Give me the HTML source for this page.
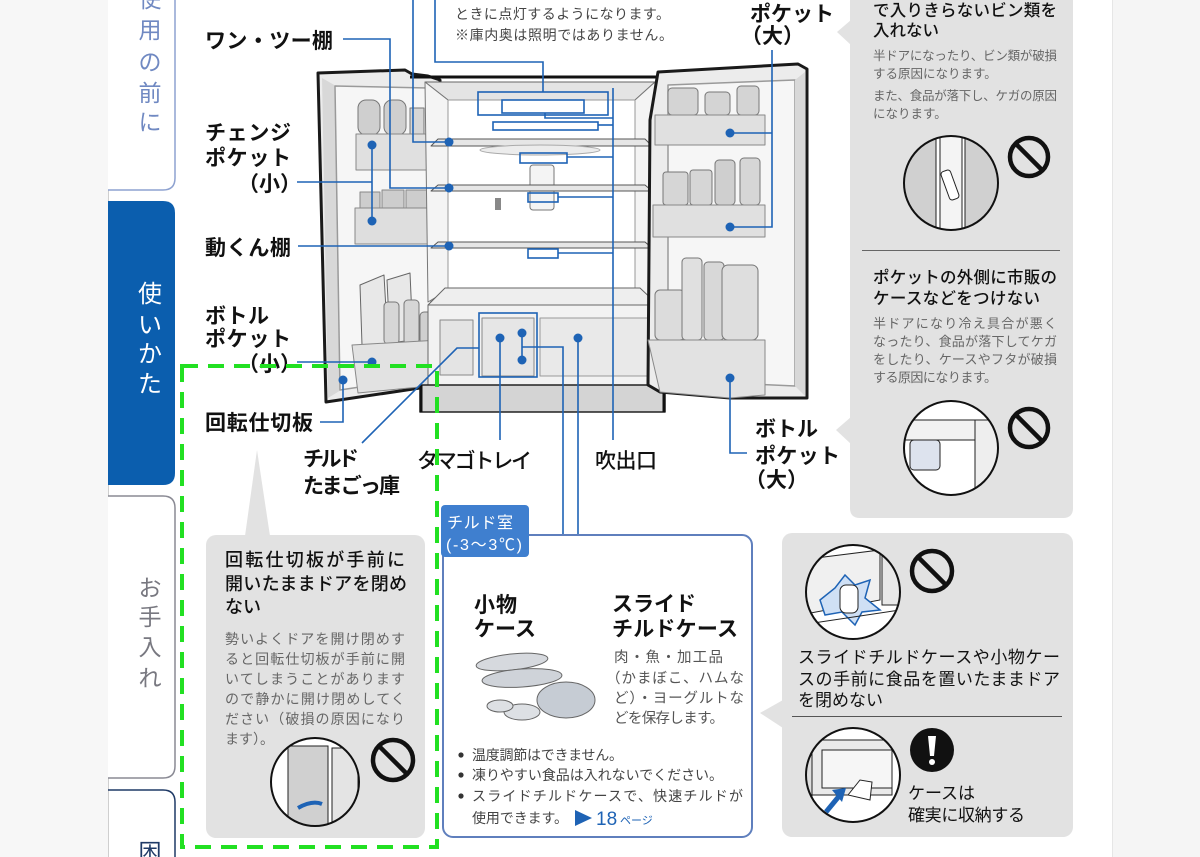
<!DOCTYPE html>
<html><head><meta charset="utf-8">
<style>
html,body{margin:0;padding:0;width:1200px;height:857px;overflow:hidden;background:#fff}
svg{display:block}
text{font-family:"Liberation Sans","Noto Sans CJK JP",sans-serif}
</style></head>
<body>
<svg width="1200" height="857" viewBox="0 0 1200 857" xmlns="http://www.w3.org/2000/svg">
<defs>
<clipPath id="cA"><circle cx="951" cy="183" r="47"/></clipPath>
<clipPath id="cB"><circle cx="951" cy="448" r="47"/></clipPath>
<clipPath id="cC"><circle cx="315" cy="782" r="44"/></clipPath>
<clipPath id="cD"><circle cx="853" cy="592" r="47"/></clipPath>
<clipPath id="cE"><circle cx="853" cy="775" r="47"/></clipPath>
</defs>

<!-- backgrounds -->
<rect x="0" y="0" width="108" height="857" fill="#f7f7f7"/>
<rect x="1113" y="0" width="87" height="857" fill="#f5f5f5"/>
<line x1="108.5" y1="0" x2="108.5" y2="857" stroke="#cfcfcf" stroke-width="1"/>
<line x1="1112.5" y1="0" x2="1112.5" y2="857" stroke="#e6e6e6" stroke-width="1"/>

<!-- tabs -->
<path d="M108,-5 L175,-5 L175,178 Q175,190 163,190 L108,190" fill="#fff" stroke="#8ea2d0" stroke-width="1.5"/>
<g fill="#7089c2" font-size="23" text-anchor="middle">
<text x="150" y="7">使</text><text x="150" y="38">用</text><text x="150" y="70">の</text><text x="150" y="101">前</text><text x="150" y="130">に</text>
</g>
<path d="M108,201 L163,201 Q175,201 175,213 L175,473 Q175,485 163,485 L108,485 Z" fill="#0b5eae"/>
<g fill="#fff" font-size="24" text-anchor="middle">
<text x="150" y="302">使</text><text x="150" y="333">い</text><text x="150" y="362">か</text><text x="150" y="392">た</text>
</g>
<path d="M108,496 L163,496 Q175,496 175,508 L175,766 Q175,778 163,778 L108,778" fill="#fff" stroke="#8a8a94" stroke-width="1.5"/>
<g fill="#787880" font-size="23" text-anchor="middle">
<text x="150" y="596">お</text><text x="150" y="625">手</text><text x="150" y="655">入</text><text x="150" y="686">れ</text>
</g>
<path d="M108,790 L163,790 Q175,790 175,802 L175,860" fill="#fff" stroke="#1f3a66" stroke-width="1.5"/>
<text x="150" y="860" fill="#1f3a66" font-size="23" text-anchor="middle">困</text>

<!-- ============ FRIDGE ============ -->
<g stroke-linejoin="round">
<!-- left door -->
<path d="M318,73 L405,70 L412,74 L428,76 L440,80 L440,380 L420,388 L326,402 Z" fill="#ececec" stroke="#1a1a1a" stroke-width="3"/>
<path d="M322,78 L336,86 L341,390 L328,398 Z" fill="#d8d8d8"/>
<path d="M335,86 L428,88 L432,376 L340,390 Z" fill="#f6f6f6" stroke="#9a9a9a" stroke-width="1.5"/>
<rect x="358" y="100" width="22" height="35" rx="8" fill="#cfcfcf" stroke="#777"/>
<rect x="384" y="100" width="22" height="35" rx="8" fill="#cfcfcf" stroke="#777"/>
<rect x="410" y="108" width="14" height="27" fill="#d6d6d6" stroke="#777"/>
<rect x="356" y="134" width="80" height="36" fill="#e0e0e0" stroke="#888"/>
<rect x="360" y="192" width="20" height="18" fill="#cdcdcd" stroke="#888"/>
<rect x="382" y="190" width="22" height="20" fill="#cdcdcd" stroke="#888"/>
<rect x="406" y="190" width="22" height="20" fill="#cdcdcd" stroke="#888"/>
<rect x="355" y="208" width="82" height="36" fill="#dedede" stroke="#888"/>
<path d="M360,285 L384,275 L388,345 L362,345 Z" fill="#e8e8e8" stroke="#666"/>
<path d="M387,280 L410,273 L413,340 L390,343 Z" fill="#e8e8e8" stroke="#666"/>
<rect x="384" y="302" width="15" height="42" rx="4" fill="#d6d6d6" stroke="#777"/>
<rect x="404" y="300" width="15" height="44" rx="4" fill="#d6d6d6" stroke="#777"/>
<rect x="420" y="312" width="14" height="32" rx="4" fill="#cfcfcf" stroke="#777"/>
<path d="M352,345 L440,340 L440,385 L358,393 Z" fill="#e2e2e2" stroke="#888"/>

<!-- cabinet -->
<line x1="410" y1="77" x2="662" y2="77" stroke="#111" stroke-width="3"/>
<path d="M425,82 L655,82 L635,100 L448,100 Z" fill="#e4e4e4" stroke="#666"/>
<path d="M425,82 L448,100 L448,290 L428,302 Z" fill="#f4f4f4" stroke="#777"/>
<path d="M655,82 L635,100 L635,290 L655,302 Z" fill="#f4f4f4" stroke="#777"/>
<rect x="448" y="100" width="187" height="190" fill="#fff" stroke="#999"/>
<path d="M438,139 L645,139 L652,146 L431,146 Z" fill="#e6e6e6" stroke="#555"/>
<ellipse cx="540" cy="150" rx="60" ry="5" fill="#ececec" stroke="#aaa"/>
<rect x="530" y="165" width="24" height="45" rx="3" fill="#f4f4f4" stroke="#777"/>
<path d="M438,185 L645,185 L652,191 L431,191 Z" fill="#e6e6e6" stroke="#555"/>
<path d="M438,242 L645,242 L652,248 L431,248 Z" fill="#e6e6e6" stroke="#555"/>
<rect x="495" y="198" width="6" height="12" fill="#888"/>
<path d="M445,288 L640,288 L658,305 L428,305 Z" fill="#eeeeee" stroke="#666"/>
<rect x="428" y="305" width="232" height="80" fill="#f2f2f2" stroke="#666"/>
<rect x="440" y="320" width="33" height="55" fill="#e4e4e4" stroke="#888"/>
<rect x="482" y="318" width="52" height="58" fill="#e6e6e6" stroke="#888"/>
<rect x="540" y="318" width="110" height="58" fill="#e9e9e9" stroke="#999"/>
<rect x="420" y="385" width="245" height="27" fill="#d4d4d4" stroke="#222" stroke-width="1.5"/>
<line x1="421" y1="385" x2="421" y2="412" stroke="#111" stroke-width="3"/>
<line x1="664" y1="385" x2="664" y2="412" stroke="#111" stroke-width="3"/>

<!-- right door -->
<path d="M658,72 L798,64 L807,69 L807,398 L730,398 L660,392 L648,385 L650,120 Z" fill="#ececec" stroke="#1a1a1a" stroke-width="3"/>
<path d="M668,85 L795,80 L795,386 L668,380 Z" fill="#f6f6f6" stroke="#9a9a9a" stroke-width="1.5"/>
<path d="M795,80 L805,72 L805,396 L795,386 Z" fill="#d8d8d8"/>
<rect x="668" y="88" width="30" height="27" rx="4" fill="#d4d4d4" stroke="#777"/>
<rect x="705" y="92" width="25" height="23" rx="4" fill="#d4d4d4" stroke="#777"/>
<rect x="737" y="86" width="22" height="29" rx="4" fill="#d4d4d4" stroke="#777"/>
<rect x="655" y="115" width="110" height="30" fill="#e0e0e0" stroke="#888"/>
<rect x="663" y="172" width="25" height="33" rx="3" fill="#d6d6d6" stroke="#777"/>
<rect x="690" y="170" width="22" height="35" rx="3" fill="#d6d6d6" stroke="#777"/>
<rect x="715" y="160" width="20" height="45" rx="4" fill="#cfcfcf" stroke="#777"/>
<rect x="740" y="158" width="20" height="47" rx="4" fill="#d6d6d6" stroke="#777"/>
<rect x="653" y="205" width="112" height="32" fill="#e0e0e0" stroke="#888"/>
<rect x="655" y="290" width="30" height="50" rx="5" fill="#dcdcdc" stroke="#777"/>
<rect x="682" y="258" width="20" height="82" rx="4" fill="#e0e0e0" stroke="#777"/>
<rect x="704" y="262" width="20" height="78" rx="4" fill="#d8d8d8" stroke="#777"/>
<rect x="722" y="265" width="36" height="75" rx="6" fill="#dedede" stroke="#777"/>
<path d="M648,340 L765,340 L765,395 L730,398 L660,392 Z" fill="#e2e2e2" stroke="#888"/>
</g>

<!-- ============ BLUE LEADERS ============ -->
<g stroke="#1e63b5" stroke-width="1.6" fill="none">
<polyline points="343,39 390,39 390,188 449,188"/>
<polyline points="413,0 413,142 449,142"/>
<polyline points="297,182 372,182"/>
<line x1="372" y1="145" x2="372" y2="221"/>
<line x1="298" y1="246" x2="449" y2="246"/>
<line x1="297" y1="362" x2="372" y2="362"/>
<polyline points="320,422 343,422 343,380"/>
<polyline points="362,443 457,348 479,348"/>
<polyline points="435,0 435,62 543,62 543,92"/>
<rect x="478" y="92" width="130" height="23"/>
<rect x="502" y="100" width="82" height="13"/>
<polyline points="545,113 545,118 613,118"/>
<rect x="493" y="122" width="105" height="8"/>
<line x1="598" y1="125" x2="613" y2="125"/>
<rect x="520" y="153" width="47" height="10"/>
<line x1="567" y1="157" x2="613" y2="157"/>
<rect x="528" y="193" width="30" height="9"/>
<line x1="558" y1="197" x2="613" y2="197"/>
<rect x="528" y="249" width="30" height="9"/>
<line x1="558" y1="253" x2="613" y2="253"/>
<line x1="613" y1="88" x2="613" y2="440"/>
<rect x="479" y="313" width="58" height="64"/>
<line x1="500" y1="338" x2="500" y2="440"/>
<line x1="522" y1="333" x2="522" y2="360"/>
<polyline points="522,347 563,347 563,605 525,605"/>
<polyline points="578,338 578,618 597,618"/>
<polyline points="772,50 772,227 730,227"/>
<line x1="772" y1="133" x2="730" y2="133"/>
<polyline points="730,378 730,453 747,453"/>
</g>
<g fill="#1e63b5">
<circle cx="449" cy="142" r="4.5"/><circle cx="449" cy="188" r="4.5"/><circle cx="449" cy="246" r="4.5"/>
<circle cx="372" cy="145" r="4.5"/><circle cx="372" cy="221" r="4.5"/><circle cx="372" cy="362" r="4.5"/>
<circle cx="343" cy="380" r="4.5"/>
<circle cx="500" cy="338" r="4.5"/><circle cx="522" cy="333" r="4.5"/><circle cx="522" cy="360" r="4.5"/>
<circle cx="578" cy="338" r="4.5"/>
<circle cx="730" cy="133" r="4.5"/><circle cx="730" cy="227" r="4.5"/><circle cx="730" cy="378" r="4.5"/>
</g>

<!-- ============ LABELS ============ -->
<g fill="#111" font-size="21" font-weight="700">
<text x="205" y="48" textLength="128" lengthAdjust="spacing">ワン・ツー棚</text>
<text x="205" y="140" textLength="86" lengthAdjust="spacing">チェンジ</text>
<text x="205" y="165" textLength="86" lengthAdjust="spacing">ポケット</text>
<text x="238" y="191">（小）</text>
<text x="205" y="255" textLength="86" lengthAdjust="spacing">動くん棚</text>
<text x="205" y="323" textLength="64" lengthAdjust="spacing">ボトル</text>
<text x="205" y="346" textLength="86" lengthAdjust="spacing">ポケット</text>
<text x="238" y="371">（小）</text>
<text x="205" y="430" textLength="108" lengthAdjust="spacing">回転仕切板</text>
<text x="303" y="466" textLength="56" lengthAdjust="spacing">チルド</text>
<text x="303" y="493" textLength="97" lengthAdjust="spacing">たまごっ庫</text>
<text x="417" y="468" textLength="115" lengthAdjust="spacing" font-weight="500">タマゴトレイ</text>
<text x="595" y="468" textLength="62" lengthAdjust="spacing" font-weight="500">吹出口</text>
<text x="750" y="21" textLength="84" lengthAdjust="spacing">ポケット</text>
<text x="741" y="43">（大）</text>
<text x="755" y="436" textLength="63" lengthAdjust="spacing">ボトル</text>
<text x="755" y="463" textLength="85" lengthAdjust="spacing">ポケット</text>
<text x="745" y="487">（大）</text>
</g>
<g fill="#444" font-size="14">
<text x="455" y="19" textLength="215" lengthAdjust="spacing">ときに点灯するようになります。</text>
<text x="455" y="40" textLength="218" lengthAdjust="spacing">※庫内奥は照明ではありません。</text>
</g>

<!-- ============ RIGHT GRAY PANEL ============ -->
<path d="M850,-10 L1073,-10 L1073,508 Q1073,518 1063,518 L860,518 Q850,518 850,508 Z" fill="#e2e2e2"/>
<polygon points="837,32 851,20 851,45" fill="#e2e2e2"/>
<polygon points="836,430 851,417 851,444" fill="#e2e2e2"/>
<g fill="#111" font-size="16.5" font-weight="500">
<text x="873" y="16" textLength="184" lengthAdjust="spacing">で入りきらないビン類を</text>
<text x="873" y="36">入れない</text>
<text x="873" y="283" textLength="184" lengthAdjust="spacing">ポケットの外側に市販の</text>
<text x="873" y="304" textLength="167" lengthAdjust="spacing">ケースなどをつけない</text>
</g>
<g fill="#666" font-size="12.5">
<text x="873" y="60" textLength="184" lengthAdjust="spacing">半ドアになったり、ビン類が破損</text>
<text x="873" y="78">する原因になります。</text>
<text x="873" y="100" textLength="184" lengthAdjust="spacing">また、食品が落下し、ケガの原因</text>
<text x="873" y="118">になります。</text>
</g>
<g fill="#666" font-size="13">
<text x="873" y="328" textLength="184" lengthAdjust="spacing">半ドアになり冷え具合が悪く</text>
<text x="873" y="346" textLength="184" lengthAdjust="spacing">なったり、食品が落下してケガ</text>
<text x="873" y="364" textLength="184" lengthAdjust="spacing">をしたり、ケースやフタが破損</text>
<text x="873" y="382" textLength="124" lengthAdjust="spacing">する原因になります。</text>
</g>
<line x1="862" y1="250.5" x2="1060" y2="250.5" stroke="#666" stroke-width="1"/>
<circle cx="951" cy="183" r="47" fill="#fff"/>
<g clip-path="url(#cA)">
<rect x="900" y="130" width="36" height="110" fill="#d0d0d0" stroke="#222"/>
<rect x="965" y="130" width="40" height="110" fill="#d0d0d0" stroke="#222"/>
<rect x="940" y="130" width="22" height="110" fill="#f4f4f4" stroke="#222"/>
<rect x="945" y="170" width="10" height="30" rx="3" fill="#fff" stroke="#222" transform="rotate(-20 950 185)"/>
</g>
<circle cx="951" cy="183" r="47" fill="none" stroke="#111" stroke-width="2"/>
<circle cx="951" cy="448" r="47" fill="#fff"/>
<g clip-path="url(#cB)">
<path d="M900,420 L1000,420 L990,440 L900,440 Z" fill="#f2f2f2" stroke="#222"/>
<rect x="975" y="420" width="25" height="80" fill="#eee" stroke="#222"/>
<rect x="910" y="440" width="30" height="30" rx="4" fill="#dde3ee" stroke="#222"/>
</g>
<circle cx="951" cy="448" r="47" fill="none" stroke="#111" stroke-width="2"/>
<g fill="none" stroke="#111" stroke-width="4.5">
<circle cx="1029" cy="157" r="19"/><line x1="1016" y1="144" x2="1042" y2="170"/>
<circle cx="1029" cy="428" r="19"/><line x1="1016" y1="415" x2="1042" y2="441"/>
</g>

<!-- ============ BOTTOM LEFT CALLOUT ============ -->
<polygon points="257,450 245,536 270,536" fill="#e2e2e2"/>
<rect x="206" y="535" width="219" height="303" rx="10" fill="#e2e2e2"/>
<g fill="#111" font-size="18" font-weight="500">
<text x="225" y="566" textLength="180" lengthAdjust="spacing">回転仕切板が手前に</text>
<text x="225" y="590" textLength="182" lengthAdjust="spacing">開いたままドアを閉め</text>
<text x="225" y="613">ない</text>
</g>
<g fill="#666" font-size="14">
<text x="225" y="644" textLength="180" lengthAdjust="spacing">勢いよくドアを開け閉めす</text>
<text x="225" y="664" textLength="180" lengthAdjust="spacing">ると回転仕切板が手前に開</text>
<text x="225" y="684" textLength="180" lengthAdjust="spacing">いてしまうことがあります</text>
<text x="225" y="704" textLength="180" lengthAdjust="spacing">ので静かに開け閉めしてく</text>
<text x="225" y="724" textLength="180" lengthAdjust="spacing">ださい（破損の原因になり</text>
<text x="225" y="744">ます）。</text>
</g>
<circle cx="315" cy="782" r="44" fill="#fff"/>
<g clip-path="url(#cC)">
<rect x="288" y="746" width="40" height="80" fill="#d0d0d0" stroke="#222"/>
<rect x="332" y="748" width="26" height="78" fill="#e4e4e4" stroke="#222"/>
<path d="M298,808 Q312,800 322,804" stroke="#1e63b5" stroke-width="4" fill="none"/>
</g>
<circle cx="315" cy="782" r="44" fill="none" stroke="#111" stroke-width="2"/>
<g fill="none" stroke="#111" stroke-width="4.5">
<circle cx="393" cy="760" r="20"/><line x1="379" y1="746" x2="407" y2="774"/>
</g>

<!-- ============ CHILLED ROOM BOX ============ -->
<rect x="443" y="535" width="309" height="302" rx="10" fill="#fff" stroke="#5f7fbd" stroke-width="2"/>
<rect x="441" y="505" width="88" height="52" rx="4" fill="#3f7fcf"/>
<g fill="#fff" font-size="16">
<text x="447" y="528" textLength="66" lengthAdjust="spacing">チルド室</text>
<text x="446" y="550" textLength="76" lengthAdjust="spacing">(-3〜3℃)</text>
</g>
<g fill="#111" font-size="21" font-weight="700">
<text x="474" y="612" textLength="43" lengthAdjust="spacing">小物</text>
<text x="474" y="636" textLength="62" lengthAdjust="spacing">ケース</text>
<text x="612" y="611" textLength="84" lengthAdjust="spacing">スライド</text>
<text x="612" y="636" textLength="126" lengthAdjust="spacing">チルドケース</text>
</g>
<g stroke="#666" stroke-width="1">
<ellipse cx="512" cy="662" rx="36" ry="8" fill="#d6d9de" transform="rotate(-6 512 662)"/>
<ellipse cx="522" cy="678" rx="40" ry="9" fill="#cfd3d9" transform="rotate(-4 522 678)"/>
<ellipse cx="566" cy="700" rx="29" ry="18" fill="#c6ccd4"/>
<ellipse cx="522" cy="712" rx="18" ry="8" fill="#dde0e4"/>
<ellipse cx="500" cy="706" rx="13" ry="6" fill="#dde0e4"/>
</g>
<g fill="#555" font-size="14.5">
<text x="614" y="662" textLength="109" lengthAdjust="spacing">肉・魚・加工品</text>
<text x="606" y="683" textLength="138" lengthAdjust="spacing">（かまぼこ、ハムな</text>
<text x="614" y="703" textLength="130" lengthAdjust="spacing">ど）・ヨーグルトな</text>
<text x="614" y="723" textLength="110" lengthAdjust="spacing">どを保存します。</text>
</g>
<g fill="#333">
<circle cx="461" cy="755" r="2.6"/><circle cx="461" cy="775" r="2.6"/><circle cx="461" cy="796" r="2.6"/>
</g>
<g fill="#444" font-size="14">
<text x="472" y="760" textLength="151" lengthAdjust="spacing">温度調節はできません。</text>
<text x="472" y="780" textLength="251" lengthAdjust="spacing">凍りやすい食品は入れないでください。</text>
<text x="472" y="801" textLength="271" lengthAdjust="spacing">スライドチルドケースで、快速チルドが</text>
<text x="472" y="823" textLength="96" lengthAdjust="spacing">使用できます。</text>
</g>
<polygon points="575,810 592,818 575,826" fill="#1e63b5"/>
<text x="596" y="825" fill="#1e63b5" font-size="19">18</text>
<text x="620" y="824" fill="#1e63b5" font-size="11">ページ</text>

<!-- ============ BOTTOM RIGHT CALLOUT ============ -->
<polygon points="760,713 783,700 783,728" fill="#e2e2e2"/>
<rect x="782" y="533" width="291" height="304" rx="10" fill="#e2e2e2"/>
<circle cx="853" cy="592" r="47" fill="#fff"/>
<g clip-path="url(#cD)">
<path d="M800,560 L880,550 L880,600 L800,615 Z" fill="#f0f0f0" stroke="#222"/>
<rect x="882" y="545" width="20" height="60" fill="#e8e8e8" stroke="#222"/>
<path d="M820,600 L835,588 L845,575 L855,585 L870,580 L865,598 L880,610 L862,612 L855,625 L842,612 L825,615 Z" fill="#cfe0f5" stroke="#1e63b5" stroke-width="1.5"/>
<rect x="840" y="585" width="18" height="28" rx="6" fill="#fff" stroke="#222"/>
<line x1="800" y1="625" x2="900" y2="610" stroke="#222"/>
</g>
<circle cx="853" cy="592" r="47" fill="none" stroke="#111" stroke-width="2"/>
<g fill="none" stroke="#111" stroke-width="4.5">
<circle cx="932" cy="571" r="20"/><line x1="918" y1="557" x2="946" y2="585"/>
</g>
<g fill="#111" font-size="17">
<text x="798" y="663" textLength="262" lengthAdjust="spacing">スライドチルドケースや小物ケー</text>
<text x="798" y="685" textLength="262" lengthAdjust="spacing">スの手前に食品を置いたままドア</text>
<text x="798" y="706" textLength="85" lengthAdjust="spacing">を閉めない</text>
<text x="908" y="799" textLength="67" lengthAdjust="spacing">ケースは</text>
<text x="908" y="821" textLength="117" lengthAdjust="spacing">確実に収納する</text>
</g>
<line x1="792" y1="716.5" x2="1062" y2="716.5" stroke="#555" stroke-width="1"/>
<circle cx="853" cy="775" r="47" fill="#fff"/>
<g clip-path="url(#cE)">
<rect x="812" y="740" width="80" height="55" fill="#eaeaea" stroke="#222"/>
<rect x="822" y="750" width="70" height="38" fill="#f6f6f6" stroke="#222"/>
<rect x="800" y="740" width="12" height="70" fill="#ddd" stroke="#222"/>
<path d="M848,795 L860,780 L872,782 L870,800 Z" fill="#fff" stroke="#222"/>
<path d="M826,812 L840,795" stroke="#1e63b5" stroke-width="5"/>
<polygon points="832,790 846,788 842,802" fill="#1e63b5"/>
</g>
<circle cx="853" cy="775" r="47" fill="none" stroke="#111" stroke-width="2"/>
<circle cx="932" cy="750" r="22" fill="#111"/>
<path d="M928,736 L936,736 L934,756 L930,756 Z" fill="#fff"/>
<circle cx="932" cy="762" r="3" fill="#fff"/>

<!-- ============ GREEN DASHED FRAME ============ -->
<rect x="182" y="366" width="255" height="481" fill="none" stroke="#22e022" stroke-width="4" stroke-dasharray="16 10"/>
</svg>
</body></html>
